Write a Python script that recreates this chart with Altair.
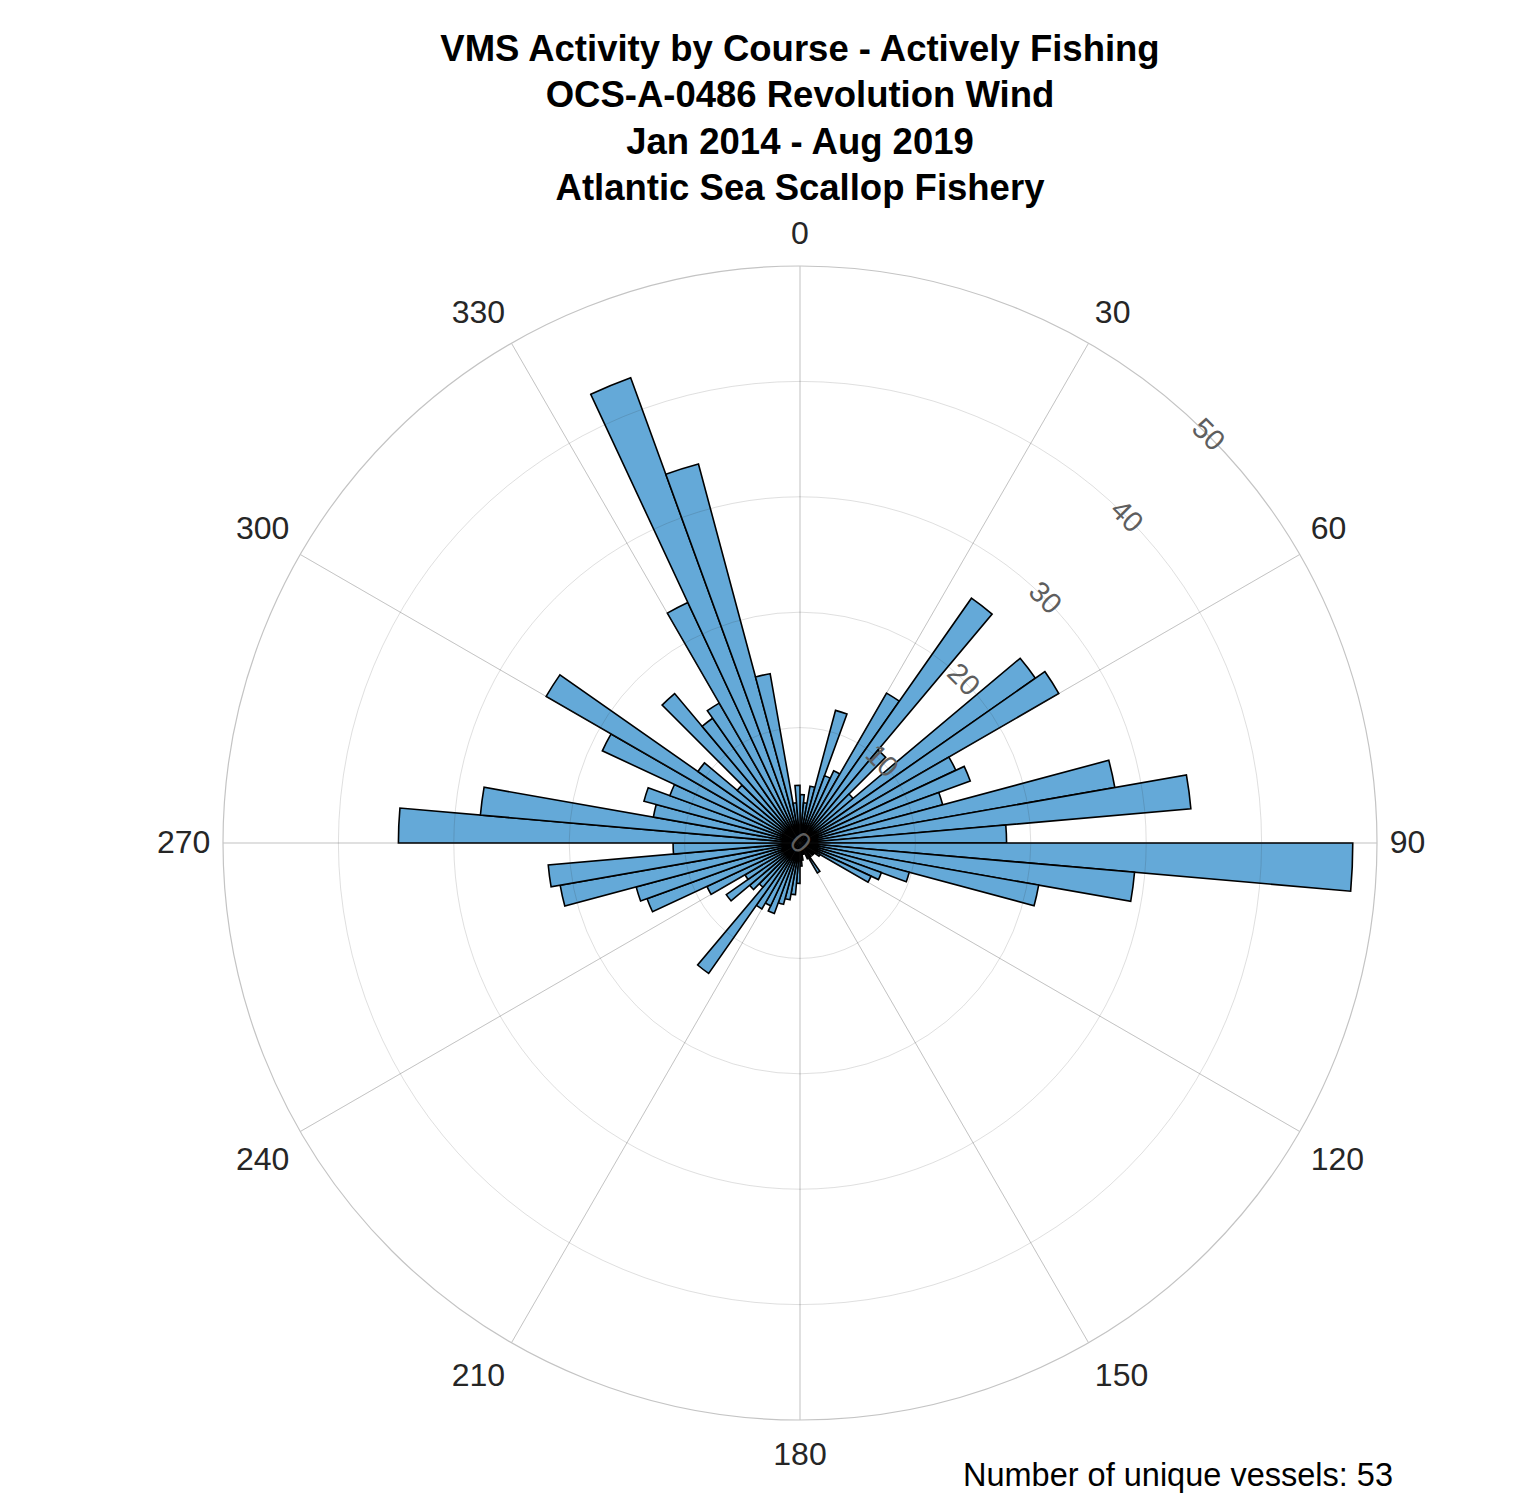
import math
import altair as alt
import pandas as pd

# ---- data (5-degree bins, clockwise from north) ----
bin_starts = list(range(0, 360, 5))
counts = [
    4.2, 3.5, 5.0, 11.9, 6.2, 6.9, 15.0, 25.9, 10.5, 6.0,      # 0-45
    24.9, 25.9, 14.9, 15.7, 12.8, 27.7, 34.0, 17.9,            # 50-85
    47.9, 29.1, 21.0, 9.8, 7.5, 6.8, 2.0, 1.5, 1.5,            # 90-130
    1.0, 1.5, 3.0, 1.5, 1.0, 1.0, 1.0, 1.5, 2.0,               # 135-175
    3.5, 4.5, 5.0, 5.5, 6.5, 6.0, 6.6, 13.8, 5.0,              # 180-220
    5.7, 7.8, 5.5, 8.9, 14.1, 14.7, 21.1, 21.9, 11.0,          # 225-265
    34.8, 27.8, 12.9, 14.0, 12.0, 18.9, 25.4, 10.8, 7.1,       # 270-310
    16.9, 13.2, 14.0, 23.0, 42.9, 34.0, 14.9, 3.5, 5.0,        # 315-355
]
bin_width = 5
ring_values = [10, 20, 30, 40]
outer_value = 50
ring_label_values = [0, 10, 20, 30, 40, 50]
ring_label_texts = ["0", "10", "20", "30", "40", "50"]
ring_label_angle = 45
spoke_angles = list(range(0, 360, 30))
spoke_labels = [str(a) for a in spoke_angles]
label_radius = 51.1
title_lines = [
    "VMS Activity by Course - Actively Fishing",
    "OCS-A-0486 Revolution Wind",
    "Jan 2014 - Aug 2019",
    "Atlantic Sea Scallop Fishery",
]
footnote = "Number of unique vessels: 53"

FONT = "Liberation Sans"
PLOT = 1200
R_PX = 577


def h_align(a):
    if a in (0, 180):
        return "center"
    return "left" if a < 180 else "right"


def v_base(a):
    if a in (90, 270):
        return "middle"
    return "bottom" if (a < 90 or a > 270) else "top"


bars = pd.DataFrame({
    "start": bin_starts,
    "end": [b + bin_width for b in bin_starts],
    "count": counts,
})
rings = pd.DataFrame({"r": ring_values, "t0": 0, "t1": 360})
outer = pd.DataFrame({"r": [outer_value], "t0": 0, "t1": 360})
spokes = pd.DataFrame({"a": spoke_angles, "r": outer_value})
spoke_text = pd.DataFrame({
    "a": spoke_angles,
    "lab": spoke_labels,
    "r": label_radius,
    "al": [h_align(a) for a in spoke_angles],
    "bl": [v_base(a) for a in spoke_angles],
})
ring_text = pd.DataFrame({"r": ring_label_values, "lab": ring_label_texts, "a": ring_label_angle})
foot = pd.DataFrame({"t": [footnote]})

theta_scale = alt.Scale(domain=[0, 360], range=[0, 2 * math.pi])
r_scale = alt.Scale(type="linear", domain=[0, outer_value], range=[0, R_PX], zero=True)

bar_layer = alt.Chart(bars).mark_arc(
    fill="#64a9d8", stroke="#000000", strokeWidth=1.6
).encode(
    theta=alt.Theta("start:Q", scale=theta_scale, stack=False),
    theta2="end:Q",
    radius=alt.Radius("count:Q", scale=r_scale),
)

ring_layer = alt.Chart(rings).mark_arc(
    fillOpacity=0, stroke="#262626", strokeOpacity=0.15, strokeWidth=1
).encode(
    theta=alt.Theta("t0:Q", scale=theta_scale, stack=False),
    theta2="t1:Q",
    radius=alt.Radius("r:Q", scale=r_scale),
)

outer_layer = alt.Chart(outer).mark_arc(
    fillOpacity=0, stroke="#c4c4c4", strokeWidth=1.2
).encode(
    theta=alt.Theta("t0:Q", scale=theta_scale, stack=False),
    theta2="t1:Q",
    radius=alt.Radius("r:Q", scale=r_scale),
)

spoke_layer = alt.Chart(spokes).mark_arc(
    fillOpacity=0, stroke="#262626", strokeOpacity=0.15, strokeWidth=1
).encode(
    theta=alt.Theta("a:Q", scale=theta_scale, stack=False),
    theta2="a:Q",
    radius=alt.Radius("r:Q", scale=r_scale),
)

dy_for = {"bottom": -2.5, "middle": 0, "top": 7}
angle_layers = []
for al in ["left", "center", "right"]:
    for bl in ["bottom", "middle", "top"]:
        sub = spoke_text[(spoke_text.al == al) & (spoke_text.bl == bl)]
        if len(sub) == 0:
            continue
        angle_layers.append(
            alt.Chart(spoke_text).transform_filter(
                (alt.datum.al == al) & (alt.datum.bl == bl)
            ).mark_text(
                font=FONT, fontSize=32, color="#262626", align=al, baseline=bl,
                dy=dy_for[bl],
            ).encode(
                theta=alt.Theta("a:Q", scale=theta_scale, stack=False),
                radius=alt.Radius("r:Q", scale=r_scale),
                text="lab:N",
            )
        )

ring_text_layer = alt.Chart(ring_text).mark_text(
    font=FONT, fontSize=29, color="#5e5e5e", align="center", baseline="middle", angle=45
).encode(
    theta=alt.Theta("a:Q", scale=theta_scale, stack=False),
    radius=alt.Radius("r:Q", scale=r_scale),
    text="lab:N",
)

foot_layer = alt.Chart(foot).mark_text(
    font=FONT, fontSize=32.5, color="#000000", align="left", baseline="alphabetic"
).encode(
    x=alt.value(763),
    y=alt.value(1243),
    text="t:N",
)

chart = alt.layer(
    bar_layer, ring_layer, spoke_layer, outer_layer,
    *angle_layers, ring_text_layer, foot_layer,
).properties(
    width=PLOT,
    height=PLOT,
    autosize=alt.AutoSizeParams(type="none"),
    padding={"left": 192, "top": 235, "right": 100, "bottom": 52},
    title=alt.TitleParams(
        text=title_lines, font=FONT, fontSize=36.5, fontWeight="bold",
        color="#000000", anchor="middle", lineHeight=46.5, offset=10,
    ),
).configure_view(strokeOpacity=0)

chart.save("out.html", embed_options={"renderer": "svg", "actions": False})
